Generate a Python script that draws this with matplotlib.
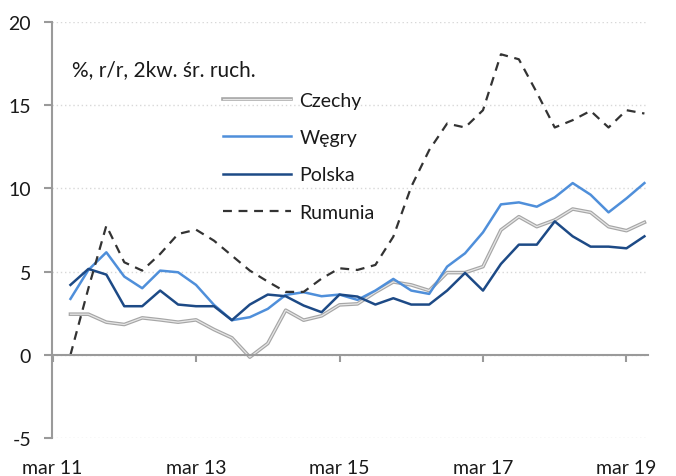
import matplotlib
matplotlib.use("Agg")
import matplotlib.pyplot as plt
import matplotlib.patheffects as pe
import numpy as np

plt.rcParams['font.family'] = ['Lato', 'DejaVu Sans']

# quarters: index 1 = jun 11 ... 33 = jun 19 (index 0 = mar 11)
quarters = list(range(1, 34))
tick_pos = [0, 8, 16, 24, 32]
tick_labels = ["mar 11", "mar 13", "mar 15", "mar 17", "mar 19"]

czechy = [2.44, 2.44, 1.96, 1.82, 2.22, 2.10, 1.96, 2.10, 1.52, 1.02, -0.14, 0.68,
          2.68, 2.08, 2.34, 3.00, 3.06, 3.76, 4.38, 4.20, 3.86, 4.94, 4.94, 5.30,
          7.50, 8.30, 7.70, 8.10, 8.76, 8.56, 7.70, 7.46, 7.96]
wegry = [3.36, 5.10, 6.16, 4.70, 4.00, 5.06, 4.96, 4.20, 3.00, 2.08, 2.26, 2.76,
         3.60, 3.76, 3.52, 3.62, 3.30, 3.86, 4.56, 3.86, 3.66, 5.30, 6.10, 7.36,
         9.04, 9.16, 8.90, 9.46, 10.32, 9.62, 8.56, 9.40, 10.32]
polska = [4.20, 5.16, 4.82, 2.92, 2.92, 3.86, 3.02, 2.92, 2.92, 2.08, 3.02, 3.62,
          3.52, 2.96, 2.56, 3.62, 3.50, 3.02, 3.40, 3.02, 3.02, 3.86, 4.92, 3.86,
          5.46, 6.62, 6.62, 8.02, 7.12, 6.50, 6.50, 6.40, 7.12]
rumunia = [0.00, 4.00, 7.76, 5.56, 5.06, 6.06, 7.26, 7.52, 6.86, 5.96, 5.06, 4.40,
           3.78, 3.78, 4.58, 5.20, 5.10, 5.40, 7.10, 10.10, 12.30, 13.90, 13.66, 14.70,
           18.06, 17.76, 15.76, 13.66, 14.10, 14.66, 13.66, 14.70, 14.50]

fig = plt.figure(figsize=(6.76, 4.77), dpi=100)
ax = fig.add_axes([52/676, 1-439/477, (648-52)/676, (439-23)/477])

ax.plot(quarters, czechy, color='#E6E6E6', lw=0.9, label='Czechy',
        path_effects=[pe.Stroke(linewidth=2.6, foreground='#A6A6A6'), pe.Normal()])
ax.plot(quarters, wegry, color='#4F8FDA', lw=1.8, label='Węgry')
ax.plot(quarters, polska, color='#1D4A86', lw=1.8, label='Polska')
ax.plot(quarters, rumunia, color='#333333', lw=1.6, ls=(0, (4, 3)), label='Rumunia')

ax.set_xlim(-0.03, 33.2)
ax.set_ylim(-5, 20)
ax.set_yticks([-5, 0, 5, 10, 15, 20])
ax.set_yticklabels(['-5', '0', '5', '10', '15', '20'])
ax.yaxis.grid(True, color='#D8D8D8', ls=(0, (1, 2)), lw=1.0)
ax.set_axisbelow(True)

for s in ['top', 'right']:
    ax.spines[s].set_visible(False)
ax.spines['left'].set_color('#9A9A9A')
ax.spines['left'].set_linewidth(1.5)
ax.spines['bottom'].set_position(('data', 0))
ax.spines['bottom'].set_color('#9A9A9A')
ax.spines['bottom'].set_linewidth(1.5)

ax.tick_params(axis='y', direction='out', length=6, width=1.5, color='#9A9A9A',
               labelsize=14, pad=9, labelcolor='#1a1a1a')
ax.set_xticks(tick_pos)
ax.tick_params(axis='x', direction='out', length=5, width=1.5, color='#9A9A9A',
               labelbottom=False)

sec = ax.secondary_xaxis(0)
sec.set_xticks(tick_pos)
sec.set_xticklabels(tick_labels)
sec.spines['bottom'].set_visible(False)
sec.tick_params(length=0, pad=15, labelsize=14, labelcolor='#1a1a1a')

leg = ax.legend(loc='upper left', bbox_to_anchor=(0.27, 0.855), frameon=False,
                fontsize=14, handlelength=3.5, handletextpad=0.45,
                labelspacing=1.04, borderpad=0)
for t in leg.get_texts():
    t.set_color('#1a1a1a')

fig.text(72/676, 1-70/477, '%, r/r, 2kw. śr. ruch.', fontsize=15,
         va='center', ha='left', color='#1a1a1a')

fig.savefig('out.png', dpi=100)
